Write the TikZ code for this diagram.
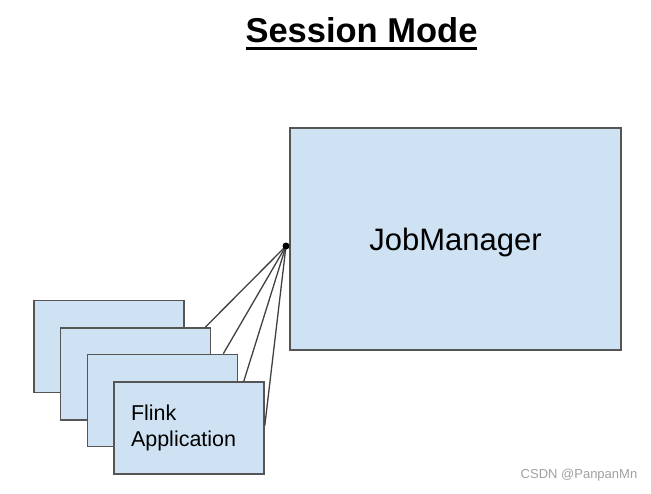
\documentclass[tikz,border=0pt]{standalone}
\usepackage{fontspec}
\setmainfont{Liberation Sans}
\definecolor{boxfill}{HTML}{CFE2F3}
\definecolor{boxline}{HTML}{555555}
\definecolor{wirecol}{HTML}{404040}
\definecolor{markgray}{HTML}{A0A0A0}
\newsavebox{\titlebox}
\newcommand{\titleul}[1]{\sbox{\titlebox}{#1}\rlap{\rule[-7.5pt]{\wd\titlebox}{3pt}}\usebox{\titlebox}}

\begin{document}
\begin{tikzpicture}[x=1pt,y=-1pt,
    appbox/.style={draw=boxline, line width=1.6pt, fill=boxfill,
        minimum width=150pt, minimum height=92pt, inner sep=0pt},
    wire/.style={draw=wirecol, line width=1.3pt}]

    \useasboundingbox (0,0) rectangle (651,493);

    % Заголовок
    \node[font=\bfseries\fontsize{34.5}{40}\selectfont, inner sep=0pt, anchor=base] (title) at (361.5,42) {\titleul{Session Mode}};

    % Стопка приложений
    \node[appbox] (app1) at (109,346.5) {};
    \node[appbox] (app2) at (135.5,374) {};
    \node[appbox] (app3) at (162.5,400.5) {};
    \node[appbox, text width=116pt, align=left, font=\fontsize{21.5}{26}\selectfont] (app4) at (189,428) {Flink\\Application};

    % JobManager
    \node[appbox, minimum width=331pt, minimum height=222pt, font=\fontsize{31}{36}\selectfont, text depth=0pt] (jm) at (455.5,239) {JobManager};

    % Линии от точки к приложениям
    \coordinate (hub) at (286,246);
    \draw[wire] (hub) -- ([xshift=-6pt]app2.north east);
    \draw[wire] (hub) -- ([xshift=-15pt]app3.north east);
    \draw[wire] (hub) -- ([xshift=-21pt]app4.north east);
    \draw[wire] (hub) -- ([yshift=2.5pt]app4.east);
    \fill[black] (hub) circle (3.5pt);

    % Подпись в углу
    \node[text=markgray, font=\fontsize{13}{15}\selectfont, inner sep=0pt] (mark) at (579,475) {CSDN @PanpanMn};

\end{tikzpicture}
\end{document}
